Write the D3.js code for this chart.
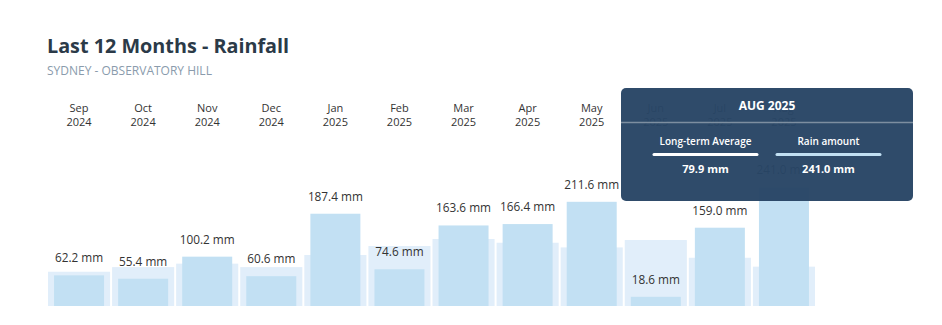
<!DOCTYPE html>
<html><head><meta charset="utf-8">
<script src="https://cdn.jsdelivr.net/npm/d3@7/dist/d3.min.js"></script>
<style>body{margin:0;background:#fff;font-family:"Open Sans",sans-serif;}</style>
</head><body><svg id="c" width="942" height="325"></svg>
<script>
const months = ["Sep","Oct","Nov","Dec","Jan","Feb","Mar","Apr","May","Jun","Jul","Aug"];
const years = ["2024","2024","2024","2024","2025","2025","2025","2025","2025","2025","2025","2025"];
const rainfall = [62.2,55.4,100.2,60.6,187.4,74.6,163.6,166.4,211.6,18.6,159.0,241.0];
const average = [69.6,79.0,86.0,79.0,103.6,121.8,136.0,128.5,119.0,134.0,98.0,79.9];
const tooltipMonth = "AUG 2025";
const tooltipIndex = 11;

const svg = d3.select("#c");
const keys = months.map((m,i)=>m+" "+years[i]);
const x = d3.scaleBand().domain(keys).range([48,815]).paddingInner(0.031).paddingOuter(0);
const y = d3.scaleLinear().domain([0,250]).range([306,306-123.1]);
const fgW = 50;

svg.append("text").attr("x",47).attr("y",53).attr("font-size",19.8).attr("font-weight",700)
  .attr("fill","#2b3a48").text("Last 12 Months - Rainfall");
svg.append("text").attr("x",47).attr("y",75).attr("font-size",12)
  .attr("fill","#8a9bac").text("SYDNEY - OBSERVATORY HILL");

const g = svg.append("g");
const cols = g.selectAll("g.col").data(keys).join("g").attr("class","col");
cols.append("text").attr("x",d=>x(d)+x.bandwidth()/2).attr("y",112).attr("text-anchor","middle")
  .attr("font-size",11).attr("fill","#333").text((d,i)=>months[i]);
cols.append("text").attr("x",d=>x(d)+x.bandwidth()/2).attr("y",126).attr("text-anchor","middle")
  .attr("font-size",11).attr("fill","#333").text((d,i)=>years[i]);
cols.append("rect").attr("x",d=>x(d)).attr("width",x.bandwidth())
  .attr("y",(d,i)=>y(average[i])).attr("height",(d,i)=>y(0)-y(average[i])).attr("fill","#e1eefa");
cols.append("rect").attr("x",d=>x(d)+x.bandwidth()/2-fgW/2).attr("width",fgW)
  .attr("y",(d,i)=>y(rainfall[i])).attr("height",(d,i)=>y(0)-y(rainfall[i])).attr("fill","#c2e0f3");
cols.append("text").attr("x",d=>x(d)+x.bandwidth()/2).attr("y",(d,i)=>y(rainfall[i])-13)
  .attr("text-anchor","middle").attr("font-size",11.8).attr("fill","#333")
  .text((d,i)=>rainfall[i].toFixed(1)+" mm");

// tooltip
const tt = svg.append("g");
tt.append("rect").attr("x",621).attr("y",88).attr("width",292).attr("height",113).attr("rx",5)
  .attr("fill","#284565").attr("opacity",0.97);
tt.append("text").attr("x",767).attr("y",110).attr("text-anchor","middle").attr("font-size",12)
  .attr("font-weight",700).attr("fill","#fff").text(tooltipMonth);
tt.append("line").attr("x1",621).attr("x2",913).attr("y1",122.5).attr("y2",122.5)
  .attr("stroke","#7d8ea0").attr("stroke-width",1.5);
const cols2 = [{label:"Long-term Average",cx:705.5,color:"#ffffff",val:average[tooltipIndex]},
               {label:"Rain amount",cx:828.5,color:"#c2e0f3",val:rainfall[tooltipIndex]}];
cols2.forEach(c=>{
  tt.append("text").attr("x",c.cx).attr("y",145).attr("text-anchor","middle").attr("font-size",10)
    .attr("font-weight",600).attr("fill","#fff").text(c.label);
  tt.append("line").attr("x1",c.cx-51.5).attr("x2",c.cx+51.5).attr("y1",154.5).attr("y2",154.5)
    .attr("stroke",c.color).attr("stroke-width",3).attr("stroke-linecap","round");
  tt.append("text").attr("x",c.cx).attr("y",172.5).attr("text-anchor","middle").attr("font-size",11)
    .attr("font-weight",700).attr("fill","#fff").text(c.val.toFixed(1)+" mm");
});
</script></body></html>
